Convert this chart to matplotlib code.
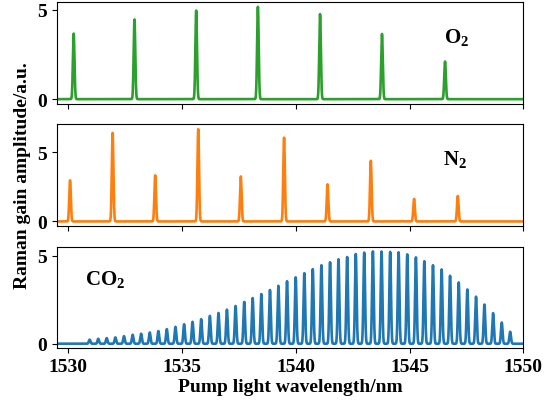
import numpy as np
import matplotlib
matplotlib.use('Agg')
import matplotlib.pyplot as plt

# peak centres (nm) and gain amplitudes (a.u.) for each gas
o2_center = [1530.25, 1532.92, 1535.63, 1538.34, 1541.07, 1543.79, 1546.56]
o2_gain = [3.67, 4.46, 4.96, 5.17, 4.76, 3.65, 2.11]

n2_center = [1530.09, 1531.96, 1533.83, 1535.72, 1537.59,
             1539.49, 1541.40, 1543.30, 1545.20, 1547.12]
n2_gain = [2.97, 6.39, 3.33, 6.67, 3.25, 6.05, 2.68, 4.38, 1.63, 1.84]

co2_center = [1530.95, 1531.33, 1531.70, 1532.08, 1532.46, 1532.84, 1533.21, 1533.59,
              1533.97, 1534.34, 1534.72, 1535.10, 1535.47, 1535.85, 1536.23, 1536.61,
              1536.98, 1537.36, 1537.74, 1538.11, 1538.49, 1538.87, 1539.24, 1539.62,
              1540.00, 1540.38, 1540.75, 1541.13, 1541.51, 1541.88, 1542.26, 1542.64,
              1543.01, 1543.39, 1543.77, 1544.15, 1544.52, 1544.90, 1545.28, 1545.65,
              1546.03, 1546.41, 1546.78, 1547.16, 1547.54, 1547.92, 1548.29, 1548.67,
              1549.05, 1549.42]
co2_gain = [0.23, 0.28, 0.32, 0.36, 0.43, 0.51, 0.57, 0.64,
            0.72, 0.83, 0.96, 1.11, 1.25, 1.40, 1.58, 1.75,
            1.94, 2.15, 2.38, 2.60, 2.83, 3.06, 3.30, 3.56,
            3.78, 4.02, 4.25, 4.47, 4.64, 4.81, 4.94, 5.11,
            5.19, 5.26, 5.25, 5.23, 5.21, 5.09, 4.92, 4.70,
            4.47, 4.23, 3.87, 3.49, 3.09, 2.68, 2.23, 1.74,
            1.21, 0.68]

wl_min, wl_max = 1529.5, 1550.0
linewidth_nm = 0.035


def spectrum(wl, centers, gains):
    #sum of narrow gaussian lines, one per Raman line
    out = np.zeros_like(wl)
    for c, g in zip(centers, gains):
        out += g*np.exp(-0.5*((wl-c)/linewidth_nm)**2)
    return out


def main():
    plt.rcParams['font.family'] = ['Liberation Serif', 'DejaVu Serif']
    plt.rcParams['font.weight'] = 'bold'
    plt.rcParams['axes.labelweight'] = 'bold'
    plt.rcParams['font.size'] = 14
    plt.rcParams['mathtext.fontset'] = 'custom'
    plt.rcParams['mathtext.rm'] = 'Liberation Serif:bold'
    plt.rcParams['mathtext.bf'] = 'Liberation Serif:bold'

    wl = np.arange(wl_min, wl_max+0.0025, 0.0025)
    fig, axes = plt.subplots(3, 1, sharex=True, figsize=(5.55, 4.02), dpi=100)
    fig.subplots_adjust(left=0.102, right=0.943, top=0.992, bottom=0.131, hspace=0.204)

    panels = [(o2_center, o2_gain, 'tab:green', r'O$_\mathbf{2}$', (1547.05, 3.48)),
              (n2_center, n2_gain, 'tab:orange', r'N$_\mathbf{2}$', (1547.0, 4.5)),
              (co2_center, co2_gain, 'tab:blue', r'CO$_\mathbf{2}$', (1531.65, 3.66))]
    for ax, (cen, gain, col, name, pos) in zip(axes, panels):
        ax.plot(wl, spectrum(wl, cen, gain), color=col, lw=1.9)
        ax.text(pos[0], pos[1], name, ha='center', va='center', fontsize=15, fontweight='bold')
        ax.set_yticks([0, 5])
        ax.set_xlim(wl_min, wl_max)

    axes[2].set_xticks([1530, 1535, 1540, 1545, 1550])
    axes[2].set_xlabel('Pump light wavelength/nm', labelpad=2, fontweight='bold')
    fig.text(0.04, 1-176/402, 'Raman gain amplitude/a.u.', rotation=90,
             ha='center', va='center', fontsize=14, fontweight='bold')
    fig.savefig('out.png', dpi=100)


if __name__ == '__main__':
    main()
